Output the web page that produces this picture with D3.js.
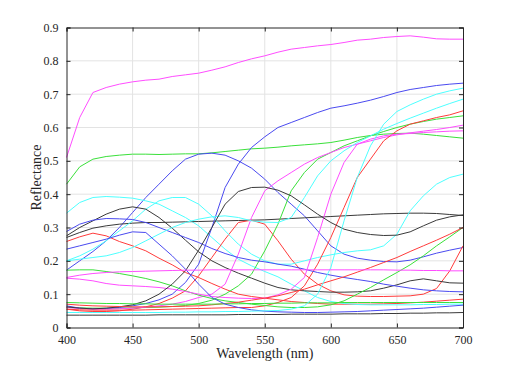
<!DOCTYPE html>
<html><head><meta charset="utf-8">
<script src="https://cdn.jsdelivr.net/npm/d3@7"></script>
<style>body{margin:0;background:#fff}svg{display:block}</style>
</head><body>
<div id="chart"></div>
<script>
const wavelengths = d3.range(400, 701, 10);
const xTicks = [400,450,500,550,600,650,700];
const yTicks = [0,0.1,0.2,0.3,0.4,0.5,0.6,0.7,0.8,0.9];
const yTickLabels = ["0","0.1","0.2","0.3","0.4","0.5","0.6","0.7","0.8","0.9"];
const xLabel = "Wavelength (nm)";
const yLabel = "Reflectance";

const m1 = [.51,.63,.705,.72,.73,.737,.742,.745,.753,.758,.763,.772,.782,.795,.806,.815,.826,.835,.84,.845,.849,.855,.862,.865,.87,.873,.875,.871,.866,.865,.865];
const m2 = [.06,.057,.055,.055,.056,.058,.061,.065,.07,.078,.09,.1,.13,.22,.33,.41,.44,.465,.49,.51,.525,.54,.55,.56,.57,.578,.584,.589,.594,.6,.607];
const m3 = [.148,.145,.14,.132,.127,.125,.123,.12,.115,.108,.1,.093,.09,.088,.087,.088,.098,.115,.15,.27,.4,.495,.55,.565,.575,.58,.582,.585,.587,.589,.59];
const m4 = [.15,.157,.162,.165,.167,.168,.169,.17,.171,.172,.172,.173,.173,.173,.173,.173,.173,.173,.173,.173,.173,.173,.173,.173,.173,.172,.172,.171,.171,.17,.17];
const g1 = [.43,.482,.505,.513,.517,.52,.52,.519,.52,.521,.521,.524,.528,.532,.536,.538,.541,.545,.548,.551,.555,.562,.57,.576,.58,.582,.583,.58,.576,.572,.568];
const g2 = [.06,.059,.058,.058,.058,.059,.06,.061,.063,.066,.072,.082,.1,.125,.16,.23,.31,.41,.465,.505,.525,.545,.56,.575,.588,.6,.61,.618,.625,.63,.635];
const g3 = [.172,.173,.173,.168,.162,.155,.147,.137,.125,.11,.097,.087,.08,.075,.07,.066,.062,.06,.06,.062,.068,.08,.1,.12,.143,.165,.188,.215,.245,.272,.3];
const g4 = [.075,.074,.073,.072,.072,.071,.071,.07,.07,.07,.07,.07,.071,.071,.072,.072,.073,.073,.074,.074,.074,.075,.075,.075,.075,.075,.075,.075,.075,.075,.075];
const b1 = [.172,.2,.228,.26,.3,.345,.39,.43,.47,.505,.52,.523,.517,.5,.478,.445,.405,.37,.335,.29,.245,.22,.208,.202,.198,.197,.202,.212,.223,.232,.24];
const b2 = [.065,.058,.056,.057,.06,.065,.072,.083,.1,.135,.19,.3,.42,.49,.54,.572,.6,.615,.63,.645,.658,.665,.673,.682,.693,.705,.714,.72,.726,.73,.733];
const b3 = [.288,.31,.322,.327,.326,.324,.315,.3,.285,.27,.255,.237,.222,.21,.202,.197,.19,.184,.175,.165,.157,.15,.144,.138,.13,.124,.118,.113,.11,.108,.107];
const b4 = [.235,.245,.255,.265,.277,.287,.285,.25,.215,.175,.13,.09,.07,.06,.053,.049,.047,.046,.045,.045,.046,.047,.048,.05,.052,.054,.056,.058,.061,.064,.067];
const k1 = [.27,.285,.298,.305,.31,.313,.315,.315,.316,.317,.318,.319,.32,.321,.322,.323,.325,.327,.329,.331,.333,.335,.337,.339,.341,.342,.343,.343,.342,.339,.336];
const k2 = [.275,.3,.32,.34,.355,.362,.355,.33,.298,.262,.227,.2,.18,.163,.148,.133,.12,.113,.11,.108,.106,.106,.107,.11,.118,.128,.14,.146,.14,.134,.133];
const k3 = [.062,.058,.056,.058,.062,.068,.08,.1,.13,.17,.232,.3,.37,.408,.42,.421,.412,.395,.368,.34,.315,.295,.285,.279,.276,.277,.287,.305,.322,.332,.338];
const k4 = [.037,.037,.037,.037,.037,.037,.037,.038,.038,.038,.038,.038,.038,.039,.039,.039,.039,.04,.04,.04,.04,.041,.041,.041,.042,.042,.043,.043,.044,.044,.045];
const c1 = [.343,.375,.39,.393,.391,.388,.38,.37,.35,.33,.305,.27,.235,.205,.185,.168,.152,.13,.11,.09,.078,.072,.069,.068,.068,.068,.068,.069,.069,.07,.07];
const c2 = [.2,.215,.235,.26,.29,.32,.355,.38,.39,.39,.37,.335,.29,.25,.22,.2,.19,.19,.2,.21,.218,.225,.23,.233,.245,.28,.35,.395,.43,.45,.46];
const c3 = [.2,.205,.21,.215,.225,.24,.26,.28,.3,.315,.325,.332,.335,.33,.32,.316,.315,.33,.39,.455,.5,.53,.555,.575,.595,.612,.628,.643,.658,.672,.685];
const c4 = [.045,.045,.045,.045,.045,.045,.045,.045,.046,.046,.047,.047,.048,.048,.049,.05,.051,.055,.065,.1,.18,.32,.45,.545,.61,.648,.668,.685,.7,.71,.718];
const r1 = [.258,.272,.283,.275,.258,.245,.23,.208,.188,.165,.15,.132,.115,.1,.093,.088,.083,.078,.075,.072,.07,.07,.07,.07,.071,.072,.074,.076,.079,.082,.085];
const r2 = [.055,.05,.048,.048,.05,.055,.062,.072,.088,.11,.155,.21,.265,.315,.322,.31,.26,.205,.16,.13,.11,.098,.094,.093,.093,.094,.095,.1,.117,.17,.245];
const r3 = [.055,.053,.052,.052,.052,.052,.053,.054,.055,.056,.057,.058,.059,.06,.06,.065,.075,.09,.125,.19,.27,.36,.45,.505,.56,.59,.61,.62,.63,.638,.65];
const r4 = [.07,.067,.065,.064,.063,.062,.062,.062,.063,.064,.065,.068,.072,.076,.082,.088,.095,.105,.115,.128,.14,.152,.166,.18,.195,.21,.228,.245,.262,.28,.3];

const seriesList = [
  {v:r1,c:"r"},{v:g1,c:"g"},{v:b1,c:"b"},{v:c1,c:"c"},{v:m1,c:"m"},{v:k1,c:"k"},
  {v:r2,c:"r"},{v:g2,c:"g"},{v:b2,c:"b"},{v:c2,c:"c"},{v:m2,c:"m"},{v:k2,c:"k"},
  {v:r3,c:"r"},{v:g3,c:"g"},{v:b3,c:"b"},{v:c3,c:"c"},{v:m3,c:"m"},{v:k3,c:"k"},
  {v:r4,c:"r"},{v:g4,c:"g"},{v:b4,c:"b"},{v:c4,c:"c"},{v:m4,c:"m"},{v:k4,c:"k"}
];
const colorMap = {r:"#ff3b3b", g:"#3ae03a", b:"#4a4af0", c:"#4dffff", m:"#ff4dff", k:"#3a3a3a"};

const W = 512, H = 369;
const margin = {left:66.5, right:49, top:27.5, bottom:41.5};
const svg = d3.select("#chart").append("svg").attr("width", W).attr("height", H);
const x = d3.scaleLinear().domain([400,700]).range([margin.left, W - margin.right]);
const y = d3.scaleLinear().domain([0,0.9]).range([H - margin.bottom, margin.top]);
const font = "'Liberation Serif', 'Times New Roman', serif";

// grid
const grid = svg.append("g");
grid.selectAll(".gx").data(xTicks.slice(1,-1)).enter().append("line")
  .attr("x1", d=>x(d)).attr("x2", d=>x(d)).attr("y1", y(0)).attr("y2", y(0.9))
  .attr("stroke", "#e3e3e3").attr("stroke-width", 1);
grid.selectAll(".gy").data(yTicks.slice(1,-1)).enter().append("line")
  .attr("x1", x(400)).attr("x2", x(700)).attr("y1", d=>y(d)).attr("y2", d=>y(d))
  .attr("stroke", "#e3e3e3").attr("stroke-width", 1);

// lines
const line = d3.line().x((d,i)=>x(wavelengths[i])).y(d=>y(d));
svg.append("g").selectAll("path").data(seriesList).enter().append("path")
  .attr("d", d=>line(d.v)).attr("fill","none")
  .attr("stroke", d=>colorMap[d.c]).attr("stroke-width", 1);

// axes
const axisColor = "#262626";
const xb = svg.append("g").attr("transform", `translate(0,${y(0)})`)
  .call(d3.axisBottom(x).tickValues(xTicks).tickSize(-4).tickPadding(8).tickFormat(d3.format("d")));
const xt = svg.append("g").attr("transform", `translate(0,${y(0.9)})`)
  .call(d3.axisTop(x).tickValues(xTicks).tickSize(-4).tickFormat(""));
const yl = svg.append("g").attr("transform", `translate(${x(400)},0)`)
  .call(d3.axisLeft(y).tickValues(yTicks).tickSize(-4).tickPadding(8).tickFormat((d,i)=>yTickLabels[i]));
const yr = svg.append("g").attr("transform", `translate(${x(700)},0)`)
  .call(d3.axisRight(y).tickValues(yTicks).tickSize(-4).tickFormat(""));
[xb,xt,yl,yr].forEach(g=>{
  g.selectAll(".domain").attr("stroke", axisColor).attr("stroke-width", 1);
  g.selectAll(".tick line").attr("stroke", axisColor);
  g.selectAll("text").attr("fill", "#262626").style("font-family", font).style("font-size", "12px");
});

svg.append("text").attr("x", (x(400)+x(700))/2).attr("y", 358)
  .attr("text-anchor","middle").attr("fill","#262626")
  .style("font-family", font).style("font-size","14px").text(xLabel);
svg.append("text").attr("transform", `translate(41,${(y(0)+y(0.9))/2}) rotate(-90)`)
  .attr("text-anchor","middle").attr("fill","#262626")
  .style("font-family", font).style("font-size","14px").text(yLabel);
</script>
</body></html>
